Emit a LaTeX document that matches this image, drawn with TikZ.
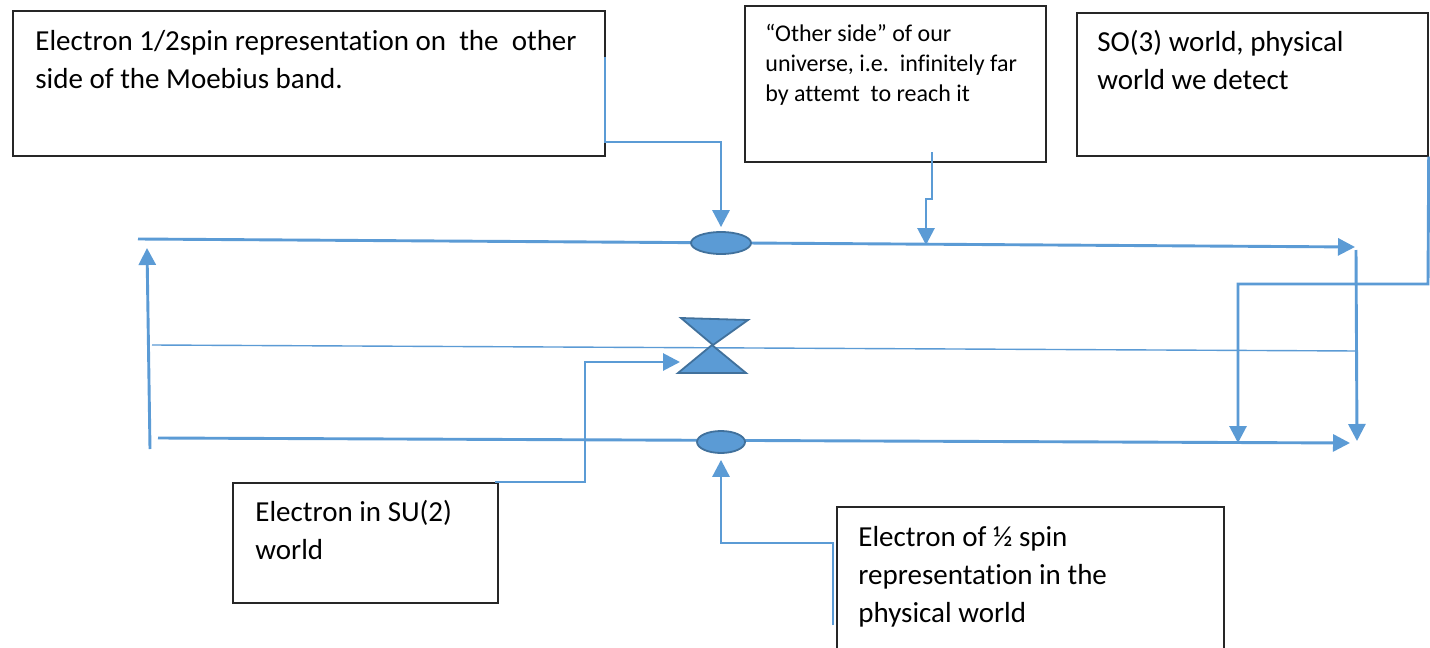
\documentclass[tikz,border=0pt]{standalone}
\usepackage{fontspec}
\setmainfont{Carlito}[Ligatures=NoCommon]
\usetikzlibrary{arrows.meta,fit,shapes.geometric}
\definecolor{ablue}{HTML}{5B9BD5}
\definecolor{dblue}{HTML}{41719C}
\begin{document}
\begin{tikzpicture}[x=0.5pt,y=-0.5pt,
  box/.style={draw=black!85, line width=0.7pt, inner sep=0pt},
  lbl/.style={anchor=north west, inner sep=0pt, align=left, font=\fontsize{14.5pt}{19pt}\selectfont},
  lblsm/.style={anchor=north west, inner sep=0pt, align=left, font=\fontsize{12pt}{15pt}\selectfont},
  wire/.style={draw=ablue, line width=1.45pt},
  arr/.style={wire, -{Triangle[width=8.5pt,length=8.5pt]}},
  thin/.style={draw=ablue, line width=0.7pt},
  blob/.style={ellipse, fill=ablue, draw=dblue, line width=0.9pt, inner sep=0pt},
  tri/.style={fill=ablue, draw=dblue, line width=0.9pt, line join=miter}]
\clip (0,0) rectangle (1430,648);
\fill[white] (0,0) rectangle (1430,648);

% boxes
\node[box, fit={(13,11)(605,156)}] (A) {};
\node[box, fit={(745,6)(1046,162)}] (B) {};
\node[box, fit={(1077,13)(1428,156)}] (C) {};
\node[box, fit={(233,483)(498,603)}] (D) {};
\node[box, fit={(837,507)(1224,670)}] (E) {};

% texts
\node[lbl] (At) at (35,23) {\strut Electron 1/2spin representation on\ \ the\ \ other\\side of the Moebius band.};
\node[lblsm] (Bt) at (765,20) {\strut “Other side” of our\\universe, i.e.\ \ infinitely far\\by attemt\ \ to reach it};
\node[lbl] (Ct) at (1097,24.5) {\strut SO(3) world, physical\\world we detect};
\node[lbl] (Dt) at (255,494) {\strut Electron in SU(2)\\world};
\node[lbl] (Et) at (858,519) {\strut Electron of ½ spin\\representation in the\\physical world};

% line end points
\coordinate (tl) at (138,239);
\coordinate (tr) at (1355,247);
\coordinate (bl) at (158,438);
\coordinate (br) at (1350,443);
\coordinate (ml) at (152,345);
\coordinate (mr) at (1358,351);
\coordinate (lv0) at (150,449);
\coordinate (lv1) at (147,248);
\coordinate (rv0) at (1356,250);
\coordinate (rv1) at (1357,441);

% main lines
\draw[arr] (tl) -- (tr);
\draw[arr] (bl) -- (br);
\draw[thin] (ml) -- (mr);
\draw[arr] (lv0) -- (lv1);
\draw[arr] (rv0) -- (rv1);

% ellipses
\node[blob, minimum width=30pt, minimum height=11pt] (e1) at (721,243) {};
\node[blob, minimum width=24pt, minimum height=11pt] (e2) at (721,442) {};

% bowtie
\coordinate (bt) at (680,362);
\filldraw[tri] (681,318) -- (748,320) -- (713,345) -- cycle;
\filldraw[tri] (712,345) -- (746,373) -- (678,373) -- cycle;

% connectors
\coordinate (a0) at (605,57);
\draw[arr, shorten >=2pt] (a0) -- (605,142) -| (e1.north);

\coordinate (b0) at (932,152);
\coordinate (b1) at (926,245);
\draw[arr] (b0) -- (932,199) -- (926,199) -- (b1);

\coordinate (c1) at (1238,443);
\draw[arr] (C.south east) -- (1428,284) -- (1238,284) -- (c1);

\coordinate (d0) at (495,482);
\draw[arr] (d0) -- (585,482) -- (585,362) -- (bt);

\coordinate (e0) at (833,625);
\draw[arr, shorten >=3pt] (e0) -- (833,543) -| (e2.south);
\end{tikzpicture}
\end{document}
